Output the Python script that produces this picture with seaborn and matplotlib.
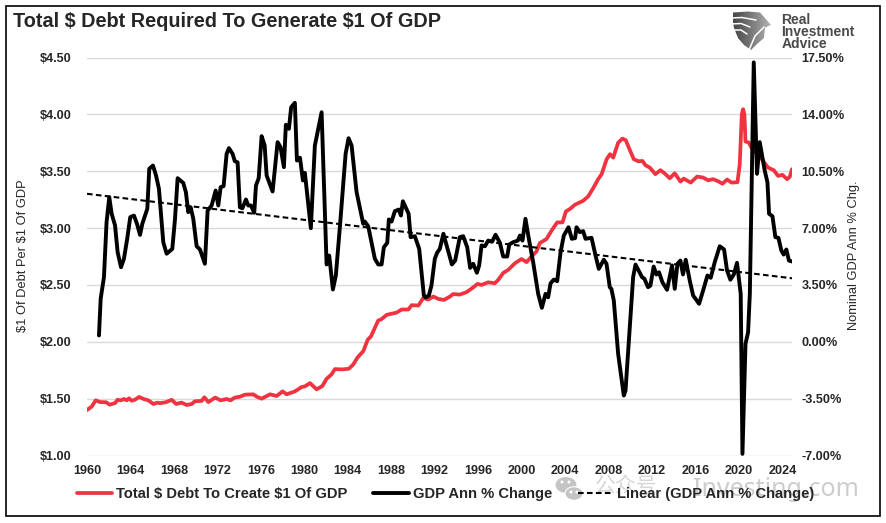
import numpy as np
import pandas as pd

import matplotlib
matplotlib.use('Agg')
import matplotlib.pyplot as plt
from matplotlib.lines import Line2D
from matplotlib.patches import Ellipse, Polygon, Rectangle
import seaborn as sns

sns.set_style('white')
plt.rcParams['font.family'] = ['Liberation Sans', 'DejaVu Sans']

# ── Data ──────────────────────────────────────────────────────────────────────
debt_years = [1960.0, 1960.43, 1960.8, 1961.2, 1961.75, 1962.1, 1962.6, 1962.8, 1963.1, 1963.4,
              1963.65, 1963.87, 1964.1, 1964.4, 1964.8, 1965.2, 1965.65, 1966.1, 1966.5, 1966.7,
              1967.24, 1967.8, 1968.2, 1968.7, 1969.17, 1969.63, 1969.94, 1970.55, 1970.8, 1971.17,
              1971.8, 1972.3, 1972.85, 1973.2, 1973.6, 1974.1, 1974.54, 1975.3, 1975.67, 1976.07,
              1976.84, 1977.45, 1978.0, 1978.37, 1979.14, 1979.75, 1980.06, 1980.52, 1981.13, 1981.66,
              1982.05, 1982.5, 1982.82, 1983.44, 1984.1, 1984.5, 1984.88, 1985.43, 1985.83, 1986.13,
              1986.8, 1987.12, 1987.58, 1988.5, 1988.96, 1989.57, 1989.88, 1990.5, 1990.95, 1991.4,
              1991.87, 1992.33, 1992.85, 1993.4, 1993.7, 1994.3, 1994.92, 1995.48, 1995.94, 1996.3,
              1996.92, 1997.53, 1997.84, 1998.3, 1998.76, 1999.37, 1999.99, 2000.45, 2000.9, 2001.37,
              2001.67, 2002.29, 2002.75, 2003.27, 2003.76, 2004.07, 2004.43, 2004.9, 2005.66, 2006.12,
              2006.58, 2007.04, 2007.36, 2007.82, 2008.13, 2008.43, 2008.88, 2009.27, 2009.58, 2009.95,
              2010.32, 2010.72, 2011.12, 2011.39, 2011.79, 2012.31, 2012.77, 2013.17, 2013.63, 2014.09,
              2014.61, 2014.92, 2015.56, 2016.15, 2016.7, 2017.16, 2017.62, 2018.08, 2018.48, 2018.91,
              2019.31, 2019.86, 2020.07, 2020.26, 2020.38, 2020.5, 2020.6, 2020.9, 2021.3, 2021.76,
              2022.22, 2022.68, 2023.2, 2023.6, 2024.0, 2024.43, 2024.67, 2024.88]
debt_values = [1.40, 1.43, 1.485, 1.47, 1.468, 1.447, 1.462, 1.49, 1.485, 1.497,
               1.485, 1.503, 1.482, 1.49, 1.515, 1.497, 1.485, 1.453, 1.465, 1.46,
               1.468, 1.49, 1.453, 1.465, 1.444, 1.453, 1.477, 1.48, 1.512, 1.47,
               1.509, 1.485, 1.497, 1.485, 1.509, 1.518, 1.535, 1.538, 1.515, 1.50,
               1.538, 1.523, 1.564, 1.538, 1.564, 1.602, 1.608, 1.637, 1.582, 1.611,
               1.675, 1.713, 1.76, 1.757, 1.763, 1.80, 1.86, 1.918, 2.018, 2.047,
               2.187, 2.20, 2.237, 2.257, 2.284, 2.284, 2.322, 2.319, 2.386, 2.371,
               2.398, 2.377, 2.368, 2.398, 2.42, 2.415, 2.436, 2.474, 2.509, 2.50,
               2.523, 2.515, 2.544, 2.605, 2.632, 2.69, 2.728, 2.70, 2.749, 2.795,
               2.868, 2.904, 2.977, 3.05, 3.05, 3.146, 3.167, 3.205, 3.24, 3.278,
               3.35, 3.43, 3.474, 3.605, 3.65, 3.62, 3.75, 3.787, 3.773, 3.688,
               3.606, 3.588, 3.59, 3.553, 3.532, 3.474, 3.509, 3.48, 3.438, 3.482,
               3.409, 3.435, 3.40, 3.453, 3.444, 3.42, 3.43, 3.412, 3.39, 3.427,
               3.40, 3.403, 3.56, 4.0, 4.045, 4.0, 3.761, 3.752, 3.68, 3.65,
               3.59, 3.532, 3.509, 3.459, 3.468, 3.43, 3.45, 3.518]

gdp_years = [1961.1, 1961.26, 1961.56, 1961.8, 1962.05, 1962.27, 1962.58, 1962.82, 1963.13, 1963.4,
             1963.7, 1963.98, 1964.32, 1964.6, 1964.88, 1965.09, 1965.55, 1965.73, 1966.07, 1966.35,
             1966.62, 1967.02, 1967.33, 1967.85, 1968.1, 1968.34, 1968.86, 1969.1, 1969.32, 1969.54,
             1969.78, 1970.09, 1970.4, 1970.85, 1971.1, 1971.47, 1971.84, 1972.08, 1972.3, 1972.57,
             1972.85, 1973.06, 1973.4, 1973.6, 1973.86, 1974.07, 1974.3, 1974.63, 1974.84, 1975.09,
             1975.39, 1975.55, 1975.8, 1976.07, 1976.35, 1976.53, 1977.08, 1977.54, 1977.81, 1978.12,
             1978.3, 1978.58, 1978.79, 1979.13, 1979.32, 1979.6, 1979.87, 1980.05, 1980.6, 1980.97,
             1981.59, 1982.05, 1982.29, 1982.63, 1982.9, 1983.27, 1983.8, 1984.07, 1984.35, 1984.81,
             1985.42, 1985.57, 1985.88, 1986.49, 1986.8, 1987.11, 1987.32, 1987.63, 1987.78, 1988.03,
             1988.33, 1988.7, 1988.89, 1989.07, 1989.6, 1989.78, 1990.17, 1990.57, 1991.0, 1991.16,
             1991.46, 1991.7, 1992.01, 1992.22, 1992.47, 1992.8, 1993.18, 1993.58, 1993.88, 1994.31,
             1994.62, 1994.99, 1995.26, 1995.54, 1995.88, 1996.09, 1996.31, 1996.62, 1996.92, 1997.29,
             1997.6, 1998.0, 1998.3, 1998.67, 1998.86, 1999.22, 1999.65, 1999.84, 2000.08, 2000.35,
             2000.66, 2001.06, 2001.52, 2001.86, 2002.2, 2002.44, 2002.66, 2002.96, 2003.27, 2003.58,
             2003.88, 2004.31, 2004.62, 2004.92, 2005.05, 2005.35, 2005.66, 2005.88, 2006.43, 2006.8,
             2007.1, 2007.56, 2007.81, 2008.11, 2008.26, 2008.48, 2008.88, 2009.4, 2009.56, 2009.95,
             2010.26, 2010.48, 2011.08, 2011.3, 2011.63, 2011.85, 2012.15, 2012.4, 2012.64, 2012.95,
             2013.38, 2013.84, 2014.09, 2014.34, 2014.61, 2014.85, 2015.1, 2015.47, 2015.78, 2016.33,
             2016.7, 2017.1, 2017.4, 2017.77, 2018.23, 2018.63, 2018.9, 2019.21, 2019.52, 2019.82,
             2020.16, 2020.32, 2020.6, 2020.84, 2021.0, 2021.36, 2021.66, 2021.91, 2022.37, 2022.62,
             2022.77, 2023.08, 2023.35, 2023.63, 2023.9, 2024.11, 2024.36, 2024.6, 2024.88]
gdp_values = [0.39, 2.66, 3.98, 7.36, 8.9, 7.88, 7.16, 5.51, 4.59, 5.11,
              6.34, 7.67, 7.77, 7.26, 6.58, 7.26, 8.19, 10.65, 10.85, 10.24,
              9.42, 6.13, 5.42, 5.72, 7.57, 10.07, 9.78, 9.21, 7.98, 8.28,
              7.57, 5.88, 5.68, 4.8, 8.08, 8.39, 9.31, 8.39, 9.52, 9.58,
              11.57, 11.92, 11.57, 11.12, 11.05, 8.28, 8.22, 8.76, 8.39, 8.39,
              7.94, 9.62, 10.07, 12.66, 12.08, 10.24, 9.25, 12.29, 11.98, 10.75,
              13.36, 13.11, 14.44, 14.71, 11.16, 11.33, 9.93, 10.4, 6.99, 12.08,
              14.13, 4.76, 5.31, 3.22, 4.08, 7.05, 11.57, 12.53, 12.08, 9.21,
              7.26, 7.4, 7.11, 5.11, 4.76, 4.76, 5.82, 6.09, 7.53, 7.4,
              8.04, 8.14, 7.77, 8.65, 7.88, 6.44, 6.5, 5.72, 2.85, 2.73,
              2.85, 3.46, 5.11, 5.48, 5.72, 6.65, 5.72, 4.76, 5.0, 6.44,
              6.5, 5.82, 4.55, 4.8, 4.25, 4.7, 5.93, 5.88, 6.23, 6.17,
              6.59, 6.09, 5.25, 5.25, 5.99, 6.13, 6.23, 6.54, 6.23, 7.57,
              6.34, 4.9, 2.95, 2.09, 2.95, 2.74, 3.6, 3.83, 3.73, 5.51,
              6.54, 7.05, 6.34, 6.38, 7.05, 6.75, 6.81, 6.34, 6.4, 5.31,
              4.49, 5.05, 4.8, 3.36, 3.26, 2.54, -0.74, -3.31, -3.0, 0.9,
              3.98, 4.75, 3.98, 3.88, 3.36, 3.46, 4.63, 4.14, 4.28, 3.67,
              3.2, 4.7, 3.26, 4.8, 5.0, 4.14, 5.05, 3.77, 2.85, 2.34,
              3.16, 4.08, 3.94, 4.9, 5.88, 5.68, 4.39, 3.82, 4.14, 4.86,
              2.95, -6.9, -0.13, 0.59, 2.97, 17.2, 10.34, 12.29, 10.54, 9.82,
              7.88, 7.73, 6.44, 6.4, 5.62, 5.37, 5.68, 5.0, 4.94]

trend_years = [1960.0, 2024.88]
trend_values = [9.11, 3.91]

year_ticks = list(range(1960, 2025, 4))
debt_ticks = [1.0, 1.5, 2.0, 2.5, 3.0, 3.5, 4.0, 4.5]
gdp_ticks = [-7.0, -3.5, 0.0, 3.5, 7.0, 10.5, 14.0, 17.5]

RED = '#EF3340'
GREY = '#D9D9D9'
TREND_DASH = (0, (2.7, 1.6))
W, H = 887, 523


def draw_logo(fig):
    # grey gradient shield with white feather cuts
    left, top, right, bottom = 731, 10, 773, 52
    lax = fig.add_axes([left / W, 1 - bottom / H, (right - left) / W, (bottom - top) / H], zorder=2)
    lax.set_xlim(left, right)
    lax.set_ylim(bottom, top)
    lax.axis('off')
    gradient = np.linspace(0.25, 0.72, 64).reshape(1, -1)
    img = lax.imshow(gradient, cmap='gray', vmin=0, vmax=1, aspect='auto',
                     extent=(left, right, bottom, top))
    outline = [(733, 12.5), (748, 11.5), (760, 12.5), (765, 18), (771, 25), (765, 27.5), (764, 38),
               (757, 44), (751, 50), (744, 45), (738, 38), (734, 28), (733, 22)]
    clip = Polygon(outline, closed=True, facecolor='none', edgecolor='none', transform=lax.transData)
    lax.add_patch(clip)
    img.set_clip_path(clip)
    for xs, ys in [([731, 742, 756], [18, 17.5, 20]),
                   ([731, 741, 750], [24, 23.5, 27]),
                   ([733, 741, 747], [30, 30, 34]),
                   ([749, 755, 764], [50, 36, 27])]:
        lax.plot(xs, ys, color='white', linewidth=1.1)
    for i, word in enumerate(['Real', 'Investment', 'Advice']):
        fig.text(781.5 / W, 1 - (19.5 + 12.3 * i) / H, word, fontsize=10, fontweight='bold',
                 color='#4A4A4A', ha='left', va='center')


def draw_watermark(fig):
    for cx, cy, w, h in [(566, 485, 22, 17), (574, 493.5, 18, 13.5)]:
        fig.add_artist(Ellipse((cx / W, 1 - cy / H), w / W, h / H, facecolor='#C4C4C4',
                               edgecolor='white', linewidth=0.8, transform=fig.transFigure,
                               zorder=1))
    for cx, cy in [(562, 482), (569, 482), (571, 492), (577, 492)]:
        fig.add_artist(Ellipse((cx / W, 1 - cy / H), 3 / W, 3 / H, facecolor='white',
                               edgecolor='none', transform=fig.transFigure, zorder=1))
    fig.text(595 / W, 1 - 486 / H, '公众号', fontsize=15, color='#D6D6D6', ha='left', va='center',
             family=['Noto Sans CJK SC', 'DejaVu Sans'], zorder=1)
    fig.text(693 / W, 1 - 489 / H, 'Investing.com', fontsize=18, color='#CDCDCD', ha='left',
             va='center', family=['Noto Sans', 'DejaVu Sans'], zorder=1)


def main():
    fig = plt.figure(figsize=(W / 100, H / 100), dpi=100, facecolor='white')
    ax = fig.add_axes([87 / W, 1 - 455.5 / H, 705 / W, 398 / H], zorder=3)
    ax.patch.set_alpha(0)
    ax2 = ax.twinx()

    debt_df = pd.DataFrame({'year': debt_years, 'debt': debt_values})
    gdp_df = pd.DataFrame({'year': gdp_years, 'gdp': gdp_values})
    trend_df = pd.DataFrame({'year': trend_years, 'trend': trend_values})

    sns.lineplot(data=debt_df, x='year', y='debt', ax=ax, color=RED, linewidth=2.7,
                 estimator=None, legend=False)
    sns.lineplot(data=gdp_df, x='year', y='gdp', ax=ax2, color='black', linewidth=2.8,
                 estimator=None, legend=False)
    sns.lineplot(data=trend_df, x='year', y='trend', ax=ax2, color='black', linewidth=1.5,
                 linestyle=TREND_DASH, estimator=None, legend=False)

    ax.set_xlim(1960, 2024.88)
    ax.set_ylim(1.0, 4.5)
    ax2.set_ylim(-7.0, 17.5)
    ax.set_xticks(year_ticks)
    ax.set_xticklabels([str(y) for y in year_ticks], fontsize=9.1, fontweight='bold')
    ax.set_yticks(debt_ticks)
    ax.set_yticklabels([f'${v:.2f}' for v in debt_ticks], fontsize=9.1, fontweight='bold')
    ax2.set_yticks(gdp_ticks)
    ax2.set_yticklabels([f'{v:.2f}%' for v in gdp_ticks], fontsize=9.1, fontweight='bold')

    ax.yaxis.grid(True, color=GREY, linewidth=1.0)
    ax.set_axisbelow(True)
    for a in (ax, ax2):
        for s in a.spines.values():
            s.set_visible(False)
        a.tick_params(length=0)
    ax.tick_params(axis='x', pad=7)
    ax.tick_params(axis='y', pad=11)
    ax2.tick_params(axis='y', pad=7)

    ax.set_xlabel('')
    ax.set_ylabel('')
    ax2.set_ylabel('')
    fig.text(23.5 / W, 1 - 256 / H, '$1 Of Debt Per $1 Of GDP', rotation=90, fontsize=9.3,
             ha='center', va='center', parse_math=False)
    fig.text(854 / W, 1 - 255 / H, 'Nominal GDP Ann % Chg.', rotation=90, fontsize=9.3,
             ha='center', va='center', parse_math=False)

    fig.text(13 / W, 1 - 21.5 / H, 'Total $ Debt Required To Generate $1 Of GDP', fontsize=14.35,
             fontweight='bold', ha='left', va='center', parse_math=False)

    # outer frame
    fig.add_artist(Rectangle((6.5 / W, 1 - 515.5 / H), 873.5 / W, 509.5 / H, fill=False,
                             edgecolor='black', linewidth=1.2, transform=fig.transFigure))

    draw_logo(fig)
    draw_watermark(fig)

    handles = [Line2D([], [], color=RED, linewidth=2.7),
               Line2D([], [], color='black', linewidth=2.8),
               Line2D([], [], color='black', linewidth=1.5, linestyle=TREND_DASH)]
    labels = [r'Total \$ Debt To Create \$1 Of GDP', 'GDP Ann % Change', 'Linear (GDP Ann % Change)']
    legend = fig.legend(handles, labels, ncol=3, frameon=False, loc='center left',
                        bbox_to_anchor=(77 / W, 1 - 494 / H), borderaxespad=0, borderpad=0,
                        prop={'family': 'Liberation Sans', 'weight': 'bold', 'size': 10.6},
                        handlelength=2.4, handletextpad=0.27, columnspacing=1.75)
    legend.set_zorder(5)

    fig.savefig('out.png', dpi=100, facecolor='white')


if __name__ == '__main__':
    main()
